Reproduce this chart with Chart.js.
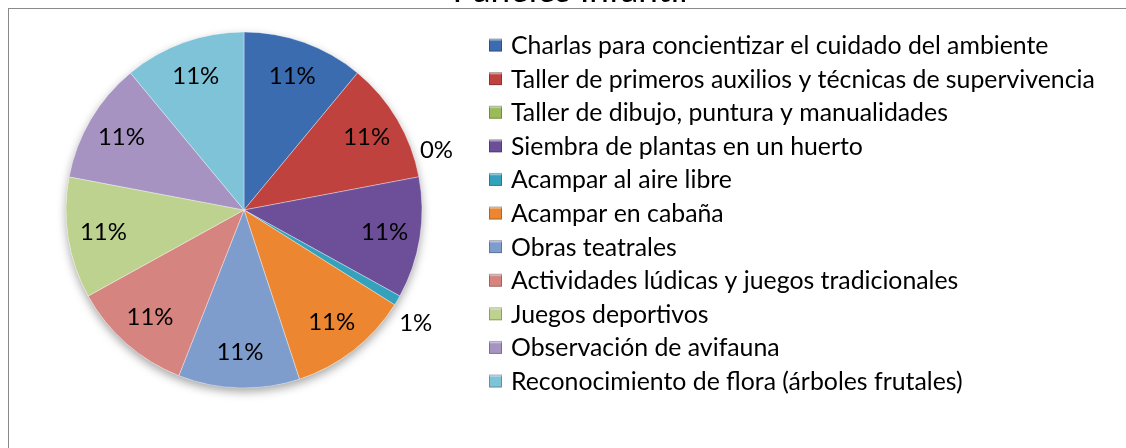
<!DOCTYPE html>
<html>
<head>
<meta charset="utf-8">
<script src="https://cdn.jsdelivr.net/npm/chart.js@4/dist/chart.umd.min.js"></script>
<style>
  html, body { margin: 0; padding: 0; background: #fff; }
  #wrap { width: 1126px; height: 448px; position: relative; }
</style>
</head>
<body>
<div id="wrap"><canvas id="pieChart" width="1126" height="448"></canvas></div>
<script>
// datos del grafico
const titulo = 'Paneles Infantil';
const categorias = [
  'Charlas para concientizar el cuidado del ambiente',
  'Taller de primeros auxilios y técnicas de supervivencia',
  'Taller de dibujo, puntura y manualidades',
  'Siembra de plantas en un huerto',
  'Acampar al aire libre',
  'Acampar en cabaña',
  'Obras teatrales',
  'Actividades lúdicas y juegos tradicionales',
  'Juegos deportivos',
  'Observación de avifauna',
  'Reconocimiento de flora (árboles frutales)'
];
const valores = [12, 12, 0, 12, 1, 12, 12, 12, 12, 12, 12];
const colores = [
  '#3b6cb0', '#c0423e', '#9bbb59', '#6c4f98', '#34a2bc', '#ec8631',
  '#7f9dcc', '#d5847f', '#bcd28e', '#a693c2', '#7ec3d7'
];

const FONT = 'Lato, "Open Sans", sans-serif';

// ajustar tamaño de letra a un ancho medido en la imagen
function fitSize(text, targetWidth, base) {
  const c = document.createElement('canvas').getContext('2d');
  c.font = base + 'px ' + FONT;
  const w = c.measureText(text).width;
  return base * targetWidth / w;
}
const legendSize = fitSize(categorias[1], 584, 20);
const labelSize = fitSize('11%', 47, 24);
const titleSize = fitSize(titulo, 235, 24);

const marco = {
  id: 'marco',
  beforeDraw(chart) {
    const ctx = chart.ctx;
    ctx.save();
    ctx.fillStyle = '#fff';
    ctx.fillRect(0, 0, chart.width, chart.height);
    ctx.strokeStyle = '#8a8a8a';
    ctx.lineWidth = 1;
    ctx.strokeRect(8.5, 8.5, 1130, 460);
    ctx.fillStyle = '#000';
    ctx.font = titleSize + 'px ' + FONT;
    ctx.textAlign = 'center';
    ctx.textBaseline = 'alphabetic';
    ctx.fillText(titulo, 570, 2);
    ctx.restore();
  },
  beforeDatasetsDraw(chart) {
    // sombra suave bajo el pastel
    const arc = chart.getDatasetMeta(0).data[0];
    if (!arc) return;
    const ctx = chart.ctx;
    ctx.save();
    ctx.shadowColor = 'rgba(0,0,0,0.35)';
    ctx.shadowBlur = 10;
    ctx.shadowOffsetY = 4;
    ctx.fillStyle = '#fff';
    ctx.beginPath();
    ctx.arc(arc.x, arc.y, arc.outerRadius, 0, Math.PI * 2);
    ctx.fill();
    ctx.restore();
  }
};

const etiquetas = {
  id: 'etiquetas',
  afterDatasetsDraw(chart) {
    const ctx = chart.ctx;
    const ds = chart.data.datasets[0].data;
    const total = ds.reduce((a, b) => a + b, 0);
    const meta = chart.getDatasetMeta(0);
    ctx.save();
    ctx.fillStyle = '#000';
    ctx.font = labelSize + 'px ' + FONT;
    ctx.textAlign = 'center';
    ctx.textBaseline = 'middle';
    meta.data.forEach((arc, i) => {
      const pct = ds[i] / total;
      const mid = (arc.startAngle + arc.endAngle) / 2;
      const inside = pct > 0.05;
      const r = inside ? arc.outerRadius * 0.8 : arc.outerRadius + 26;
      let x = arc.x + Math.cos(mid) * r;
      let y = arc.y + Math.sin(mid) * r;
      if (!inside && pct === 0) { x -= 8; y -= 22; }
      if (!inside && pct > 0) { x -= 4; y += 10; }
      ctx.fillText(Math.round(pct * 100) + '%', x, y);
    });
    ctx.restore();
  }
};

const leyenda = {
  id: 'leyenda',
  afterDraw(chart) {
    const ctx = chart.ctx;
    const labels = chart.data.labels;
    const bg = chart.data.datasets[0].backgroundColor;
    ctx.save();
    ctx.font = legendSize + 'px ' + FONT;
    ctx.textBaseline = 'middle';
    ctx.textAlign = 'left';
    labels.forEach((lab, i) => {
      const y = 45 + i * 33.6;
      const g = ctx.createLinearGradient(0, y - 7, 0, y + 7);
      g.addColorStop(0, '#ffffff');
      g.addColorStop(0.25, bg[i]);
      g.addColorStop(1, bg[i]);
      ctx.fillStyle = g;
      ctx.fillRect(489, y - 6.5, 13, 13);
      ctx.strokeStyle = 'rgba(0,0,0,0.25)';
      ctx.lineWidth = 1;
      ctx.strokeRect(489.5, y - 6, 12, 12);
      ctx.fillStyle = '#000';
      ctx.fillText(lab, 511, y + 1);
    });
    ctx.restore();
  }
};

new Chart(document.getElementById('pieChart'), {
  type: 'pie',
  data: {
    labels: categorias,
    datasets: [{
      data: valores,
      backgroundColor: colores,
      borderColor: 'rgba(255,255,255,0.35)',
      borderWidth: 1,
      radius: 178
    }]
  },
  options: {
    responsive: false,
    animation: false,
    events: [],
    layout: { padding: { left: 66, top: 32, right: 704, bottom: 60 } },
    plugins: {
      legend: { display: false },
      title: { display: false },
      tooltip: { enabled: false }
    }
  },
  plugins: [marco, etiquetas, leyenda]
});
</script>
</body>
</html>
